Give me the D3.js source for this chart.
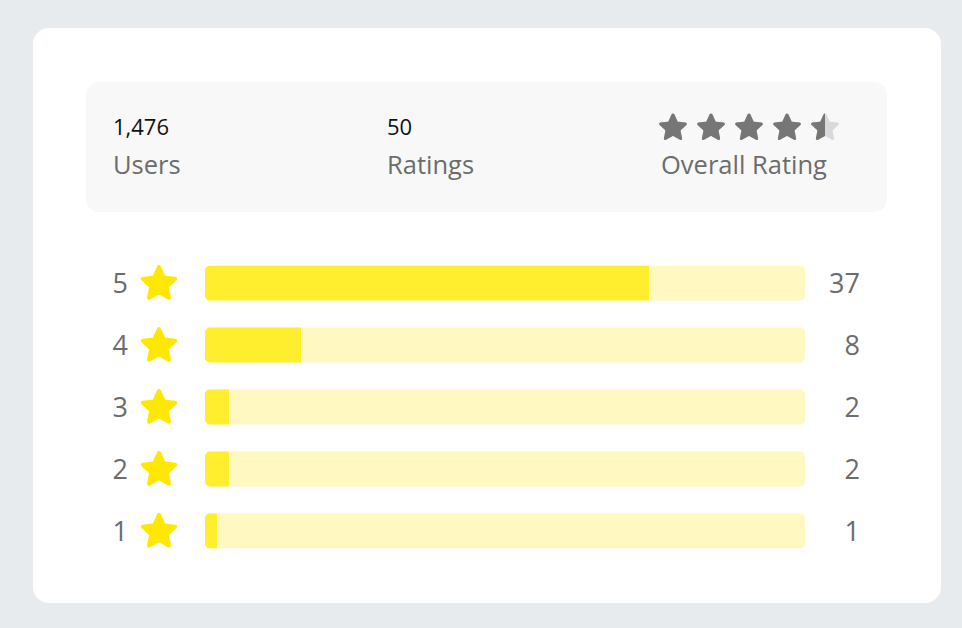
<!doctype html>
<html lang="en">
<head>
<meta charset="utf-8">
<title>Ratings</title>
<style>
    html, body { margin: 0; padding: 0; background: #e8ebee; }
    svg { display: block; font-family: "Open Sans", "Noto Sans", sans-serif; }
    .num { fill: #111; font-size: 22px; }
    .lbl { fill: #6c6c6c; font-size: 25.5px; }
    .row-lbl { fill: #6c6c6c; font-size: 27px; }
</style>
</head>
<body>
<svg id="chart" width="962" height="628"></svg>
<script src="https://cdn.jsdelivr.net/npm/d3@7"></script>
<script>
// data
const stars = [5, 4, 3, 2, 1];
const counts = [37, 8, 2, 2, 1];
const users = 1476;
const summaryLabels = ["Users", "Ratings", "Overall Rating"];

const total = d3.sum(counts);
const avg = d3.sum(stars, (s, i) => s * counts[i]) / total;
const shown = Math.round(avg * 2) / 2;

let svg = d3.select("#chart");

// card + header box
svg.append("rect").attr("x", 33).attr("y", 28).attr("width", 908).attr("height", 575)
    .attr("rx", 16).attr("fill", "#fff");
svg.append("rect").attr("x", 86).attr("y", 82).attr("width", 801).attr("height", 130)
    .attr("rx", 13).attr("fill", "#f8f8f8");

// star path, outer radius R
function starPath(R) {
    let pts = [];
    for (let i = 0; i < 10; i++) {
        let r = i % 2 ? R * 0.48 : R;
        let a = -Math.PI / 2 + i * Math.PI / 5;
        pts.push([r * Math.cos(a), r * Math.sin(a)]);
    }
    return "M" + pts.map(p => p.join(",")).join("L") + "Z";
}

// summary numbers
const fmt = d3.format(",");
const cols = d3.scalePoint().domain(summaryLabels).range([113, 661]);
svg.append("text").attr("class", "num").attr("x", cols("Users")).attr("y", 135).text(fmt(users));
svg.append("text").attr("class", "num").attr("x", cols("Ratings")).attr("y", 135).text(total);
svg.selectAll("text.lbl").data(summaryLabels).join("text")
    .attr("class", "lbl")
    .attr("x", d => cols(d))
    .attr("y", 174)
    .text(d => d);

// overall stars
const sx = d3.scaleLinear().domain([0, 4]).range([673, 825]);
const hs = svg.append("g");
d3.range(5).forEach(i => {
    let frac = Math.max(0, Math.min(1, shown - i));
    let g = hs.append("g").attr("transform", "translate(" + sx(i) + ",128)");
    g.append("path").attr("d", starPath(13))
        .attr("fill", "#d9d9dd").attr("stroke", "#d9d9dd")
        .attr("stroke-width", 3).attr("stroke-linejoin", "round");
    if (frac > 0) {
        let id = "clip" + i;
        g.append("clipPath").attr("id", id).append("rect")
            .attr("x", -16).attr("y", -16).attr("width", 32 * frac).attr("height", 32);
        g.append("path").attr("d", starPath(13)).attr("clip-path", "url(#" + id + ")")
            .attr("fill", "#767676").attr("stroke", "#767676")
            .attr("stroke-width", 3).attr("stroke-linejoin", "round");
    }
});

// bars
const x = d3.scaleLinear().domain([0, total]).range([0, 600]);
const y = d3.scaleBand().domain(stars).range([252, 562]).paddingInner(0.435).paddingOuter(0.22);
const bx = 205;

const rows = svg.selectAll("g.row").data(stars).join("g")
    .attr("class", "row")
    .attr("transform", d => "translate(0," + y(d) + ")");

const bh = y.bandwidth();

rows.append("rect")
    .attr("x", bx).attr("width", x(total)).attr("height", bh)
    .attr("rx", 5).attr("fill", "#fff8c1");

rows.append("path")
    .attr("fill", "#ffee2e")
    .attr("d", (d, i) => {
        let w = x(counts[i]), r = 5;
        return "M" + (bx + r) + ",0H" + (bx + w) + "V" + bh + "H" + (bx + r) +
            "A" + r + "," + r + " 0 0 1 " + bx + "," + (bh - r) +
            "V" + r + "A" + r + "," + r + " 0 0 1 " + (bx + r) + ",0Z";
    });

rows.append("text").attr("class", "row-lbl")
    .attr("x", 128).attr("y", bh / 2).attr("dy", "0.36em")
    .attr("text-anchor", "end")
    .text(d => d);

rows.append("path")
    .attr("transform", "translate(159," + (bh / 2 + 1) + ")")
    .attr("d", starPath(17))
    .attr("fill", "#ffe800").attr("stroke", "#ffe800")
    .attr("stroke-width", 4).attr("stroke-linejoin", "round");

rows.append("text").attr("class", "row-lbl")
    .attr("x", 860).attr("y", bh / 2).attr("dy", "0.36em")
    .attr("text-anchor", "end")
    .text((d, i) => counts[i]);
</script>
</body>
</html>
